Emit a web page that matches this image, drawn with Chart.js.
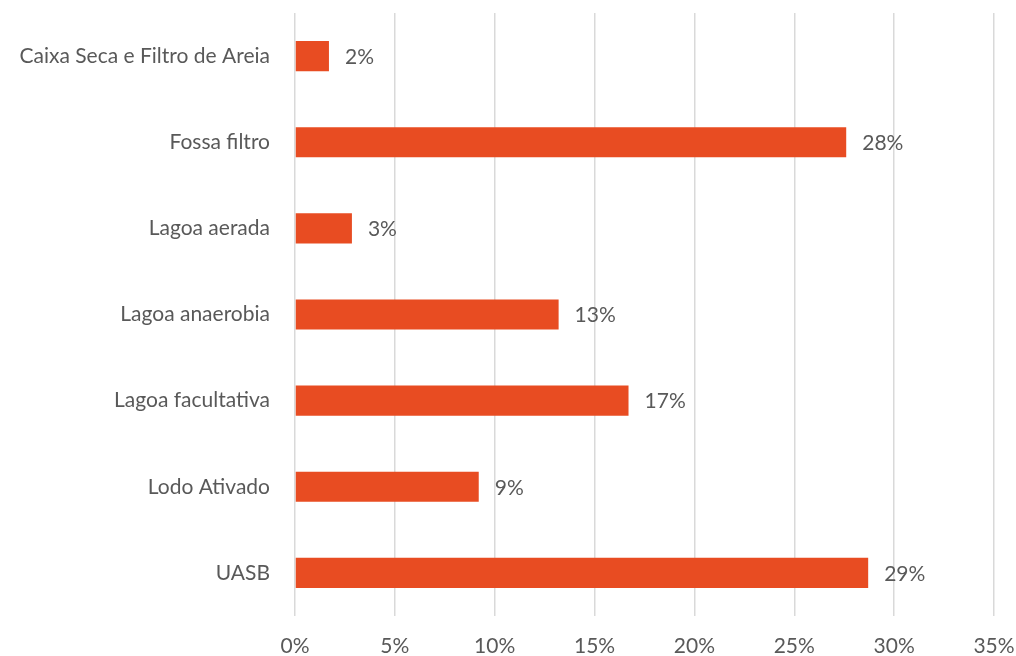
<!DOCTYPE html>
<html><head><meta charset="utf-8">
<script src="https://cdn.jsdelivr.net/npm/chart.js"></script>
<style>html,body{margin:0;padding:0;background:#fff}canvas{display:block}</style>
</head><body>
<canvas id="c" width="1016" height="656"></canvas>
<script>
const categories = ["Caixa Seca e Filtro de Areia","Fossa filtro","Lagoa aerada","Lagoa anaerobia","Lagoa facultativa","Lodo Ativado","UASB"];
const values = [1.7, 27.6, 2.85, 13.2, 16.7, 9.2, 28.7];
const valueLabels = ["2%","28%","3%","13%","17%","9%","29%"];
const xTicks = [0,5,10,15,20,25,30,35];

const FONT = "Lato, 'Open Sans', sans-serif";
const TXT = '#595959';
const FS = 21;

const labelPlugin = {
  id:'barLabels',
  afterDatasetsDraw(chart){
    const ctx = chart.ctx;
    const meta = chart.getDatasetMeta(0);
    ctx.save();
    ctx.font = FS + "px " + FONT;
    ctx.fillStyle = TXT;
    ctx.textAlign = 'left';
    ctx.textBaseline = 'middle';
    meta.data.forEach((bar,i)=>{
      ctx.fillText(valueLabels[i], bar.x + 16, bar.y + 1);
    });
    ctx.restore();
  }
};

function zeroPad(s){ s.paddingTop=0; s.paddingBottom=0; s.paddingLeft=0; s.paddingRight=0; }

new Chart(document.getElementById('c'), {
  type:'bar',
  data:{labels:categories, datasets:[{data:values, backgroundColor:'#E84C22', borderWidth:0, barPercentage:0.7, categoryPercentage:0.5}]},
  options:{
    indexAxis:'y', responsive:false, animation:false,
    layout:{padding:{left:0,right:22,top:13,bottom:0}},
    plugins:{legend:{display:false}, tooltip:{enabled:false}},
    scales:{
      x:{min:0,max:35,
        afterBuildTicks(s){ s.ticks = xTicks.map(v=>({value:v})); },
        afterFit(s){ s.height = 40; zeroPad(s); },
        grid:{color:'#d9d9d9', lineWidth:1.5, drawTicks:false},
        border:{display:false},
        ticks:{padding:18, color:TXT, font:{family:FONT,size:FS}, callback:v=>v+'%'}
      },
      y:{
        afterFit(s){ s.width = 295; zeroPad(s); },
        grid:{display:false, drawTicks:false}, border:{display:false},
        ticks:{padding:25, color:TXT, font:{family:FONT,size:FS}}
      }
    }
  },
  plugins:[labelPlugin]
});
</script>
</body></html>
